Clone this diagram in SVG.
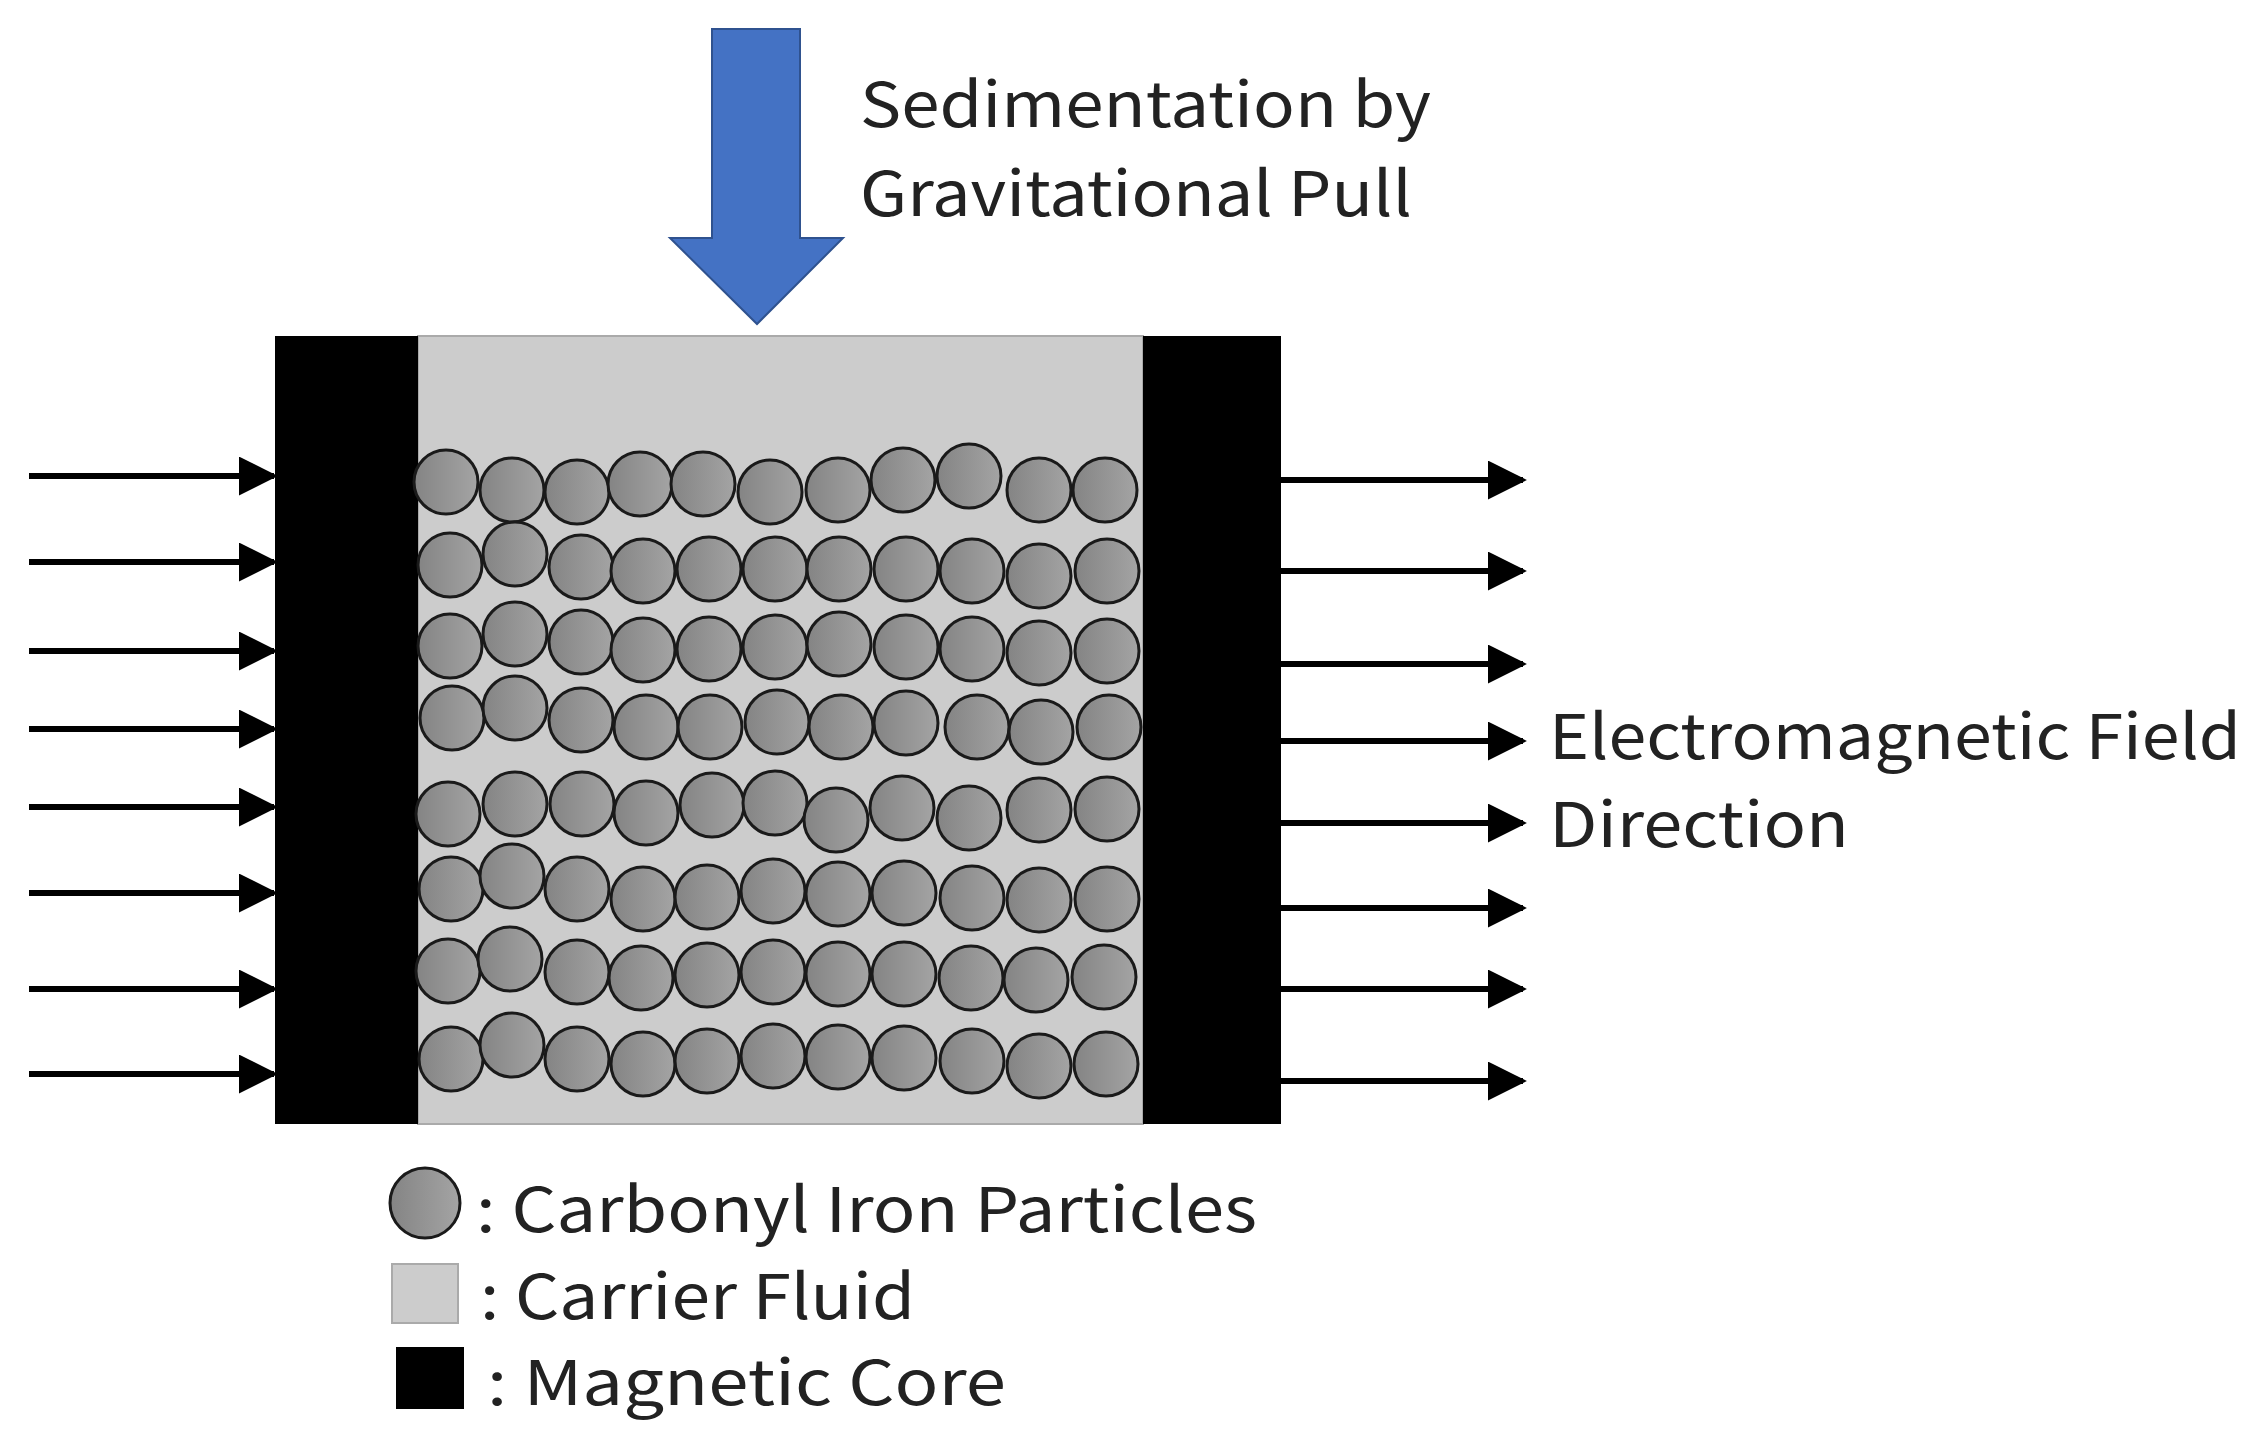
<svg xmlns="http://www.w3.org/2000/svg" width="2260" height="1448" viewBox="0 0 2260 1448">
<style>
.t{font-family:"Noto Sans CJK KR","Noto Sans",sans-serif;font-size:62px;fill:#222}
.p{fill:url(#g);stroke:#1a1a1a;stroke-width:3}
.a{stroke:#000;stroke-width:6;fill:none}
</style>
<defs>
<linearGradient id="g" x1="0" x2="1" y1="0" y2="0"><stop offset="0" stop-color="#848484"/><stop offset="1" stop-color="#a4a4a4"/></linearGradient>
<marker id="m" viewBox="0 0 10 10" refX="9" refY="5" markerWidth="6.5" markerHeight="6.5" markerUnits="strokeWidth" orient="auto"><path d="M0 0L10 5L0 10z" fill="#000"/></marker>
</defs>
<rect width="2260" height="1448" fill="#fff"/>
<g id="fluid"><rect x="418" y="336" width="725" height="788" fill="#cccccc" stroke="#aaa" stroke-width="2"/></g>
<g id="coreL"><rect x="275" y="336" width="143" height="788" fill="#000"/></g>
<g id="coreR"><rect x="1143" y="336" width="138" height="788" fill="#000"/></g>
<g id="particles">
<circle class="p" cx="446" cy="482" r="32"/><circle class="p" cx="512" cy="490" r="32"/><circle class="p" cx="577" cy="492" r="32"/><circle class="p" cx="640" cy="484" r="32"/><circle class="p" cx="703" cy="484" r="32"/><circle class="p" cx="770" cy="492" r="32"/><circle class="p" cx="838" cy="490" r="32"/><circle class="p" cx="903" cy="480" r="32"/><circle class="p" cx="969" cy="476" r="32"/><circle class="p" cx="1039" cy="490" r="32"/><circle class="p" cx="1105" cy="490" r="32"/>
<circle class="p" cx="450" cy="565" r="32"/><circle class="p" cx="515" cy="554" r="32"/><circle class="p" cx="581" cy="567" r="32"/><circle class="p" cx="643" cy="571" r="32"/><circle class="p" cx="709" cy="569" r="32"/><circle class="p" cx="775" cy="569" r="32"/><circle class="p" cx="839" cy="569" r="32"/><circle class="p" cx="906" cy="569" r="32"/><circle class="p" cx="972" cy="571" r="32"/><circle class="p" cx="1039" cy="576" r="32"/><circle class="p" cx="1107" cy="571" r="32"/>
<circle class="p" cx="450" cy="646" r="32"/><circle class="p" cx="515" cy="634" r="32"/><circle class="p" cx="581" cy="642" r="32"/><circle class="p" cx="643" cy="650" r="32"/><circle class="p" cx="709" cy="649" r="32"/><circle class="p" cx="775" cy="647" r="32"/><circle class="p" cx="839" cy="644" r="32"/><circle class="p" cx="906" cy="647" r="32"/><circle class="p" cx="972" cy="649" r="32"/><circle class="p" cx="1039" cy="653" r="32"/><circle class="p" cx="1107" cy="651" r="32"/>
<circle class="p" cx="452" cy="718" r="32"/><circle class="p" cx="515" cy="708" r="32"/><circle class="p" cx="581" cy="720" r="32"/><circle class="p" cx="646" cy="727" r="32"/><circle class="p" cx="710" cy="727" r="32"/><circle class="p" cx="777" cy="722" r="32"/><circle class="p" cx="841" cy="727" r="32"/><circle class="p" cx="906" cy="723" r="32"/><circle class="p" cx="977" cy="727" r="32"/><circle class="p" cx="1041" cy="732" r="32"/><circle class="p" cx="1109" cy="727" r="32"/>
<circle class="p" cx="448" cy="814" r="32"/><circle class="p" cx="515" cy="804" r="32"/><circle class="p" cx="582" cy="804" r="32"/><circle class="p" cx="646" cy="813" r="32"/><circle class="p" cx="712" cy="805" r="32"/><circle class="p" cx="775" cy="803" r="32"/><circle class="p" cx="836" cy="820" r="32"/><circle class="p" cx="902" cy="808" r="32"/><circle class="p" cx="969" cy="818" r="32"/><circle class="p" cx="1039" cy="810" r="32"/><circle class="p" cx="1107" cy="809" r="32"/>
<circle class="p" cx="451" cy="889" r="32"/><circle class="p" cx="512" cy="876" r="32"/><circle class="p" cx="577" cy="889" r="32"/><circle class="p" cx="643" cy="899" r="32"/><circle class="p" cx="707" cy="897" r="32"/><circle class="p" cx="773" cy="891" r="32"/><circle class="p" cx="838" cy="894" r="32"/><circle class="p" cx="904" cy="893" r="32"/><circle class="p" cx="972" cy="898" r="32"/><circle class="p" cx="1039" cy="900" r="32"/><circle class="p" cx="1107" cy="899" r="32"/>
<circle class="p" cx="448" cy="971" r="32"/><circle class="p" cx="510" cy="959" r="32"/><circle class="p" cx="577" cy="972" r="32"/><circle class="p" cx="641" cy="978" r="32"/><circle class="p" cx="707" cy="975" r="32"/><circle class="p" cx="773" cy="972" r="32"/><circle class="p" cx="838" cy="974" r="32"/><circle class="p" cx="904" cy="974" r="32"/><circle class="p" cx="971" cy="978" r="32"/><circle class="p" cx="1036" cy="980" r="32"/><circle class="p" cx="1104" cy="977" r="32"/>
<circle class="p" cx="451" cy="1059" r="32"/><circle class="p" cx="512" cy="1045" r="32"/><circle class="p" cx="577" cy="1059" r="32"/><circle class="p" cx="643" cy="1064" r="32"/><circle class="p" cx="707" cy="1061" r="32"/><circle class="p" cx="773" cy="1056" r="32"/><circle class="p" cx="838" cy="1057" r="32"/><circle class="p" cx="904" cy="1058" r="32"/><circle class="p" cx="972" cy="1061" r="32"/><circle class="p" cx="1039" cy="1066" r="32"/><circle class="p" cx="1106" cy="1064" r="32"/>
</g>
<g id="connectors">
<line class="a" marker-end="url(#m)" x1="29" y1="476" x2="274" y2="476"/>
<line class="a" marker-end="url(#m)" x1="29" y1="562" x2="274" y2="562"/>
<line class="a" marker-end="url(#m)" x1="29" y1="651" x2="274" y2="651"/>
<line class="a" marker-end="url(#m)" x1="29" y1="729" x2="274" y2="729"/>
<line class="a" marker-end="url(#m)" x1="29" y1="807" x2="274" y2="807"/>
<line class="a" marker-end="url(#m)" x1="29" y1="893" x2="274" y2="893"/>
<line class="a" marker-end="url(#m)" x1="29" y1="989" x2="274" y2="989"/>
<line class="a" marker-end="url(#m)" x1="29" y1="1074" x2="274" y2="1074"/>
<line class="a" marker-end="url(#m)" x1="1281" y1="480" x2="1523" y2="480"/>
<line class="a" marker-end="url(#m)" x1="1281" y1="571" x2="1523" y2="571"/>
<line class="a" marker-end="url(#m)" x1="1281" y1="664" x2="1523" y2="664"/>
<line class="a" marker-end="url(#m)" x1="1281" y1="741" x2="1523" y2="741"/>
<line class="a" marker-end="url(#m)" x1="1281" y1="823" x2="1523" y2="823"/>
<line class="a" marker-end="url(#m)" x1="1281" y1="908" x2="1523" y2="908"/>
<line class="a" marker-end="url(#m)" x1="1281" y1="989" x2="1523" y2="989"/>
<line class="a" marker-end="url(#m)" x1="1281" y1="1081" x2="1523" y2="1081"/>
<path id="gravity" d="M712 29H800V238H843L757 324L670 238H712Z" fill="#4472c4" stroke="#2f528f" stroke-width="2"/>
</g>
<g id="labels">
<text class="t" x="860" y="127" textLength="571" lengthAdjust="spacingAndGlyphs">Sedimentation by</text>
<text class="t" x="860" y="216" textLength="552" lengthAdjust="spacingAndGlyphs">Gravitational Pull</text>
<text class="t" x="1549" y="759" textLength="692" lengthAdjust="spacingAndGlyphs">Electromagnetic Field</text>
<text class="t" x="1549" y="847" textLength="300" lengthAdjust="spacingAndGlyphs">Direction</text>
</g>
<g id="legend">
<circle class="p" cx="425" cy="1203" r="35"/>
<text class="t" x="476" y="1232" textLength="781" lengthAdjust="spacingAndGlyphs">: Carbonyl Iron Particles</text>
<rect x="392" y="1264" width="66" height="59" fill="#cccccc" stroke="#aaa" stroke-width="2"/>
<text class="t" x="480" y="1319" textLength="435" lengthAdjust="spacingAndGlyphs">: Carrier Fluid</text>
<rect x="396" y="1347" width="68" height="62" fill="#000"/>
<text class="t" x="487" y="1405" textLength="519" lengthAdjust="spacingAndGlyphs">: Magnetic Core</text>
</g>
</svg>
